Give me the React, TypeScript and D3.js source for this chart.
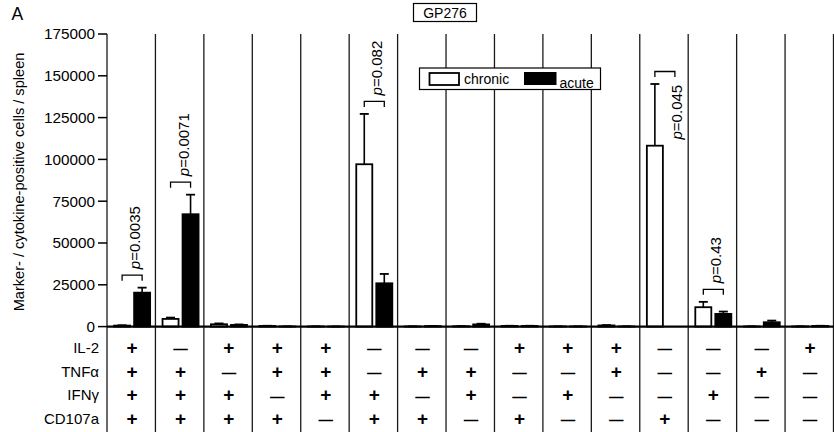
import React from "react";
import * as d3 from "d3";

// ---- data ----
const categories = ["1","2","3","4","5","6","7","8","9","10","11","12","13","14","15"];
const chronicMean = [600, 4600, 1400, 400, 100, 97100, 100, 200, 400, 100, 700, 108200, 11600, 100, 100];
const chronicSem = [200, 800, 500, 100, 50, 30100, 50, 100, 100, 50, 200, 36900, 3200, 50, 50];
const acuteMean = [20300, 67200, 1000, 100, 50, 25900, 300, 1300, 400, 100, 100, 0, 7600, 2600, 400];
const acuteSem = [3000, 11700, 300, 50, 30, 5600, 100, 400, 100, 50, 50, 0, 1400, 1000, 100];
const yTicks = [0, 25000, 50000, 75000, 100000, 125000, 150000, 175000];
const rowLabels = ["IL-2", "TNFα", "IFNγ", "CD107a"];
const il2 = ["+","-","+","+","+","-","-","-","+","+","+","-","-","-","+"];
const tnf = ["+","+","-","+","+","-","+","+","-","-","+","-","-","+","-"];
const ifn = ["+","+","+","-","+","+","-","+","-","+","-","-","+","-","-"];
const cd107 = ["+","+","+","+","-","+","+","-","+","-","-","+","-","-","-"];
const pCols = [0, 1, 5, 11, 12];
const pValues = ["0.0035", "0.0071", "0.082", "0.045", "0.43"];
const pSide = [false, false, false, true, false];
const seriesNames = ["chronic", "acute"];

const FONT = "'Liberation Sans', Arial, Helvetica, sans-serif";

export default function App() {
  const W = 834, H = 432;
  const left = 107, right = 833.5;
  const yTop = 34, yBase = 326.6, tableBottom = 432;
  const x0 = d3.scaleBand<string>().domain(categories).range([left, right]).padding(0);
  const bw = x0.bandwidth();
  const x1 = d3.scaleBand<string>().domain(seriesNames).range([6.3, bw - 4.5]).paddingInner(0.12);
  const y = d3.scaleLinear().domain([0, 175000]).range([yBase, yTop]);
  const rows = [il2, tnf, ifn, cd107];
  const rowY = [347.3, 371.6, 395, 418.3];

  const separators = categories.map((c) => x0(c)!).concat([right]);

  return (
    <svg width={W} height={H} style={{ position: "absolute", left: 0, top: 0, background: "#fff" }} fontFamily={FONT}>
      <rect x={0} y={0} width={W} height={H} fill="#fff" />
      {/* panel letter */}
      <text x={11.5} y={19.5} fontSize={17.5} fill="#000">A</text>
      {/* GP276 title box */}
      <rect x={413.5} y={3.5} width={63} height={18} fill="#fff" stroke="#000" strokeWidth={1.2} />
      <text x={445} y={17.5} fontSize={14} textAnchor="middle">GP276</text>

      {/* column separators */}
      {separators.map((sx, i) => (
        <line key={"s" + i} x1={sx} x2={sx} y1={yTop} y2={tableBottom} stroke="#1a1a1a" strokeWidth={1.3} />
      ))}

      {/* y ticks */}
      {yTicks.map((t) => (
        <g key={"t" + t}>
          <line x1={left - 9} x2={left} y1={y(t)} y2={y(t)} stroke="#000" strokeWidth={1.5} />
          <text x={left - 12} y={y(t) + 5.3} fontSize={15.3} textAnchor="end">{t}</text>
        </g>
      ))}
      <text transform={`translate(24,182) rotate(-90)`} fontSize={14.6} textAnchor="middle">
        Marker- / cytokine-positive cells / spleen
      </text>

      {/* legend */}
      <rect x={419.5} y={68} width={181} height={21.5} fill="#fff" stroke="#000" strokeWidth={1.2} />
      <rect x={429.5} y={73} width={29.5} height={12} fill="#fff" stroke="#000" strokeWidth={1.8} />
      <text x={464} y={83.5} fontSize={14}>{seriesNames[0]}</text>
      <rect x={524} y={72} width={32.5} height={13} fill="#000" />
      <text x={559.5} y={88} fontSize={14}>{seriesNames[1]}</text>

      {/* bars */}
      {categories.map((c, i) => {
        const bx0 = x0(c)!;
        const bars = [
          { k: seriesNames[0], m: chronicMean[i], s: chronicSem[i], fill: "#fff" },
          { k: seriesNames[1], m: acuteMean[i], s: acuteSem[i], fill: "#000" },
        ];
        return (
          <g key={"b" + c}>
            {bars.map((b) => {
              const bx = bx0 + x1(b.k)!;
              const w = x1.bandwidth();
              const cx = bx + w / 2;
              const top = y(b.m);
              const et = y(b.m + b.s);
              return (
                <g key={b.k}>
                  {b.m > 0 && (
                    <>
                      <line x1={cx} x2={cx} y1={top} y2={et} stroke="#000" strokeWidth={1.6} />
                      <line x1={cx - 4.5} x2={cx + 4.5} y1={et} y2={et} stroke="#000" strokeWidth={1.8} />
                      <rect x={bx + 0.8} y={top} width={w - 1.6} height={Math.max(0, yBase - top)} fill={b.fill} stroke="#000" strokeWidth={1.8} />
                    </>
                  )}
                </g>
              );
            })}
          </g>
        );
      })}

      {/* baseline */}
      <line x1={left} x2={W} y1={yBase} y2={yBase} stroke="#000" strokeWidth={2.2} />

      {/* p-value annotations */}
      {pCols.map((ci, k) => {
        const c = categories[ci];
        const bx0 = x0(c)!;
        const xc = bx0 + x1(seriesNames[0])! + x1.bandwidth() / 2;
        const xa = bx0 + x1(seriesNames[1])! + x1.bandwidth() / 2;
        const maxTop = Math.min(y(chronicMean[ci] + chronicSem[ci]), y(acuteMean[ci] + acuteSem[ci]));
        const bt = maxTop - 12.5;
        const mid = (xc + xa) / 2;
        const tx = pSide[k] ? mid + 17.5 : mid + 8;
        const ty = pSide[k] ? bt + 68 : bt - 6;
        return (
          <g key={"p" + k}>
            <path d={`M${xc},${bt + 5.5}V${bt}H${xa}V${bt + 5.5}`} fill="none" stroke="#000" strokeWidth={1.3} />
            <text transform={`translate(${tx},${ty}) rotate(-90)`} fontSize={15}>
              <tspan fontStyle="italic">p</tspan>={pValues[k]}
            </text>
          </g>
        );
      })}

      {/* table */}
      {rowLabels.map((lab, r) => (
        <text key={"rl" + r} x={99} y={rowY[r] + 5.3} fontSize={15} textAnchor="end">{lab}</text>
      ))}
      {rows.map((row, r) =>
        row.map((s, i) => {
          const cx = x0(categories[i])! + bw / 2 + 0.8;
          return s === "+" ? (
            <text key={`g${r}-${i}`} x={cx} y={rowY[r] + 6.3} fontSize={19} fontWeight="bold" textAnchor="middle">+</text>
          ) : (
            <text key={`g${r}-${i}`} x={cx} y={rowY[r] + 6.8} fontSize={14.5} fontWeight="bold" textAnchor="middle">—</text>
          );
        })
      )}
    </svg>
  );
}
